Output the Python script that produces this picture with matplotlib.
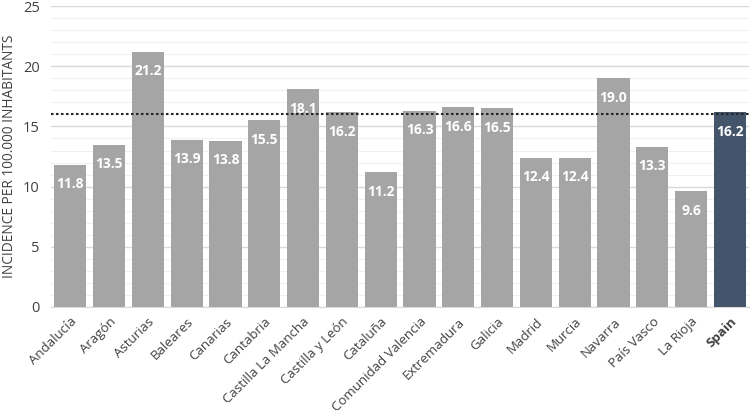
import numpy as np
import matplotlib.pyplot as plt
from matplotlib.ticker import MultipleLocator

regions = ["Andalucía", "Aragón", "Asturias", "Baleares", "Canarias", "Cantabria",
           "Castilla La Mancha", "Castilla y León", "Cataluña", "Comunidad Valencia",
           "Extremadura", "Galicia", "Madrid", "Murcia", "Navarra", "País Vasco",
           "La Rioja", "Spain"]
incidence = [11.8, 13.5, 21.2, 13.9, 13.8, 15.5, 18.1, 16.2, 11.2, 16.3,
             16.6, 16.5, 12.4, 12.4, 19.0, 13.3, 9.6, 16.2]
reference_line = 16.0

plt.rcParams['font.family'] = ['Open Sans', 'DejaVu Sans']

fig = plt.figure(figsize=(7.55, 4.13), dpi=100)
ax = fig.add_axes([0.0675, 0.257, 0.925, 0.728])

x = np.arange(len(regions))
colors = ['#a5a5a5'] * (len(regions) - 1) + ['#44546a']
bars = ax.bar(x, incidence, width=0.83, color=colors, zorder=3)

# value labels inside the top of each bar
for xi, v in zip(x, incidence):
    ax.annotate(f"{v:.1f}", (xi, v), xytext=(0, -9), textcoords='offset points',
                ha='center', va='top', color='white', fontsize=10, fontweight='bold',
                zorder=4)

ax.axhline(reference_line, color='#262626', linestyle=(0, (1.2, 1.2)), linewidth=1.5, zorder=5)

ax.set_xlim(-0.5, len(regions) - 0.5)
ax.set_ylim(0, 25)
ax.yaxis.set_major_locator(MultipleLocator(5))
ax.yaxis.set_minor_locator(MultipleLocator(1))
ax.grid(axis='y', which='major', color='#d9d9d9', linewidth=1, zorder=0)
ax.grid(axis='y', which='minor', color='#f0f0f0', linewidth=0.8, zorder=0)

ax.set_xticks(x)
ax.set_xticklabels(regions, rotation=45, ha='right', rotation_mode='anchor', fontsize=9.5)
ax.get_xticklabels()[-1].set_fontweight('bold')
ax.tick_params(axis='both', which='both', length=0, colors='#404040')
ax.tick_params(axis='y', labelsize=10.5, pad=8)
ax.tick_params(axis='x', pad=6)
ax.set_ylabel("INCIDENCE PER 100.000 INHABITANTS", fontsize=9.8, color='#404040')

for s in ['top', 'right', 'left']:
    ax.spines[s].set_visible(False)
ax.spines['bottom'].set_color('#d9d9d9')

fig.savefig("out.png", dpi=100)
